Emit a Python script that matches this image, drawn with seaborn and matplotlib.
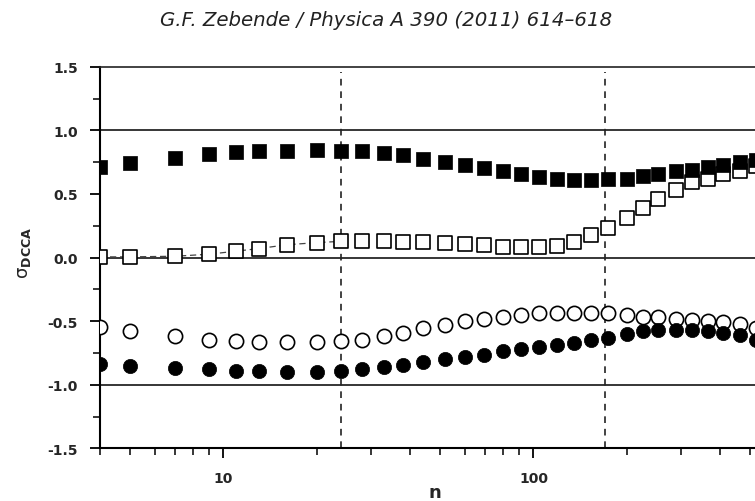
import matplotlib
matplotlib.use("Agg")
import matplotlib.pyplot as plt
import seaborn as sns
import numpy as np
import pandas as pd
from matplotlib.ticker import FixedLocator, NullFormatter, MultipleLocator, FuncFormatter

# ---- data ----
n = [4, 5, 7, 9, 11, 13, 16, 20, 24, 28, 33, 38, 44, 52, 60, 69, 80, 91, 104, 119,
     135, 153, 174, 200, 226, 253, 288, 324, 366, 409, 463, 520]
filled_sq = [0.71, 0.74, 0.78, 0.815, 0.83, 0.834, 0.84, 0.845, 0.84, 0.835, 0.82, 0.805,
             0.775, 0.75, 0.73, 0.70, 0.68, 0.655, 0.635, 0.62, 0.61, 0.61, 0.615, 0.62,
             0.64, 0.656, 0.677, 0.69, 0.71, 0.726, 0.748, 0.77]
open_sq = [0.005, 0.005, 0.01, 0.026, 0.05, 0.07, 0.10, 0.117, 0.127, 0.13, 0.13, 0.123,
           0.12, 0.117, 0.107, 0.096, 0.083, 0.08, 0.08, 0.09, 0.12, 0.175, 0.23, 0.31,
           0.39, 0.46, 0.53, 0.59, 0.62, 0.656, 0.68, 0.72]
open_circ = [-0.55, -0.576, -0.62, -0.646, -0.66, -0.664, -0.667, -0.664, -0.66, -0.65,
             -0.62, -0.59, -0.555, -0.53, -0.50, -0.48, -0.465, -0.45, -0.44, -0.437,
             -0.437, -0.437, -0.44, -0.45, -0.465, -0.47, -0.48, -0.49, -0.50, -0.507,
             -0.52, -0.555]
filled_circ = [-0.837, -0.855, -0.868, -0.88, -0.894, -0.894, -0.9, -0.9, -0.894, -0.88,
               -0.863, -0.847, -0.823, -0.80, -0.785, -0.764, -0.737, -0.717, -0.706,
               -0.69, -0.672, -0.646, -0.633, -0.60, -0.58, -0.568, -0.568, -0.573,
               -0.58, -0.594, -0.612, -0.646]
vlines_n = [24, 170]
hlines_y = [1.0, 0.0, -1.0]
y_ticks = [-1.5, -1.0, -0.5, 0.0, 0.5, 1.0, 1.5]
x_tick_labels = {10: "10", 100: "100"}
title_text = "G.F. Zebende / Physica A 390 (2011) 614\u2013618"

df = pd.DataFrame({"n": n, "filled_sq": filled_sq, "open_sq": open_sq,
                   "open_circ": open_circ, "filled_circ": filled_circ})

sns.set_style("white")
plt.rcParams["font.family"] = ["DejaVu Sans"]
plt.rcParams["mathtext.fontset"] = "custom"
plt.rcParams["mathtext.rm"] = "DejaVu Sans"
plt.rcParams["mathtext.it"] = "DejaVu Sans:italic"
plt.rcParams["mathtext.bf"] = "DejaVu Sans:bold"

fig = plt.figure(figsize=(7.55, 5.02), dpi=100)
ax = fig.add_axes([100 / 755, 1 - 449.3 / 502, 1 - 100 / 755, (449.3 - 67.7) / 502])

# reference lines
for yv in hlines_y:
    ax.axhline(yv, color="black", lw=1.1, zorder=1)
for xv in vlines_n:
    ax.axvline(xv, ymax=0.985, color="#222222", lw=1.2, ls=(0, (4, 3.5)), zorder=1)

# dashed connector of the first open squares
sub = df[df["n"] <= 24]
sns.lineplot(data=sub, x="n", y="open_sq", ax=ax, color="#444444", lw=0.9,
             linestyle=(0, (5, 3)), zorder=2, legend=False)

ms = 105
sns.scatterplot(data=df, x="n", y="filled_sq", ax=ax, marker="s", s=ms,
                color="black", edgecolor="black", linewidth=0.5, zorder=4, legend=False)
sns.scatterplot(data=df, x="n", y="open_sq", ax=ax, marker="s", s=ms * 0.85,
                facecolor="white", edgecolor="black", linewidth=1.2, zorder=3, legend=False)
sns.scatterplot(data=df, x="n", y="open_circ", ax=ax, marker="o", s=ms,
                facecolor="white", edgecolor="black", linewidth=1.2, zorder=3, legend=False)
sns.scatterplot(data=df, x="n", y="filled_circ", ax=ax, marker="o", s=ms,
                color="black", edgecolor="black", linewidth=0.5, zorder=4, legend=False)

ax.set_xscale("log")
ax.set_xlim(4.0, 518)
ax.set_ylim(-1.5, 1.5)

ax.xaxis.set_major_locator(FixedLocator(list(x_tick_labels.keys())))
ax.xaxis.set_major_formatter(FuncFormatter(lambda v, p: x_tick_labels.get(int(round(v)), "")))
minor_x = [m * d for d in (1, 10, 100) for m in range(2, 10) if m * d not in (10, 100)]
ax.xaxis.set_minor_locator(FixedLocator(minor_x))
ax.xaxis.set_minor_formatter(NullFormatter())
ax.yaxis.set_major_locator(FixedLocator(y_ticks))
ax.yaxis.set_minor_locator(MultipleLocator(0.25))
ax.yaxis.set_major_formatter(FuncFormatter(lambda v, p: f"{v:.1f}"))

ax.tick_params(axis="both", which="major", direction="out", length=7, width=1.3,
               labelsize=10, color="black")
ax.tick_params(axis="both", which="minor", direction="out", length=5, width=1.1, color="black")
ax.tick_params(axis="y", which="major", pad=9)
ax.tick_params(axis="x", which="major", pad=9)
ax.tick_params(axis="x", which="minor", length=5)
ax.tick_params(axis="x", which="both", bottom=True)
ax.tick_params(axis="y", which="both", left=True)
for lab in ax.get_xticklabels() + ax.get_yticklabels():
    lab.set_fontweight("bold")

for side in ["left", "bottom"]:
    ax.spines[side].set_linewidth(1.5)
    ax.spines[side].set_color("black")
ax.spines["top"].set_linewidth(1.2)
ax.spines["top"].set_color("#222222")
ax.spines["right"].set_visible(False)

ax.set_xlabel("")
ax.set_ylabel("")
fig.text(24 / 755, 1 - 253 / 502, "\u03c3" + r"$_{\mathbf{DCCA}}$", rotation=90,
         ha="center", va="center", fontsize=13)
fig.text(435 / 755, 1 - 493 / 502, "n", ha="center", va="center",
         fontsize=13, fontweight="bold")
fig.text(386 / 755, 1 - 21 / 502, title_text, ha="center", va="center",
         fontsize=14.2, style="italic", family=["DejaVu Sans"], color="#222222")

fig.savefig("out.png", dpi=100)
